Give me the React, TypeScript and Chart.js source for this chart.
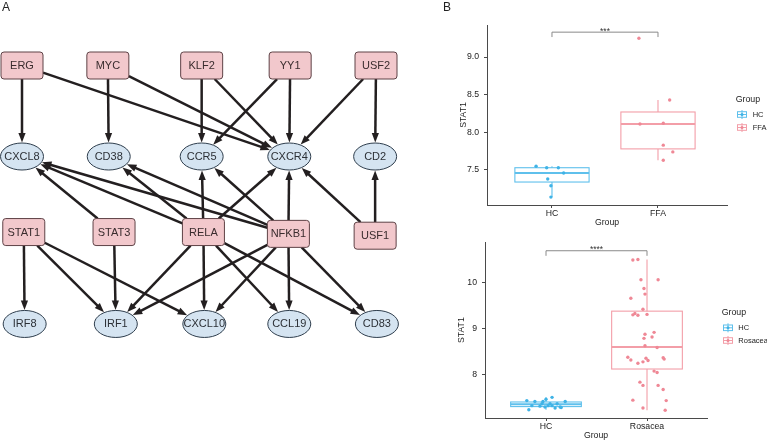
import React, { useEffect, useRef } from "react";
import { Chart, registerables } from "chart.js";
Chart.register(...registerables);

const FONT = "'Liberation Sans', Arial, Helvetica, sans-serif";

// ---------------- Panel A: regulatory network ----------------
const nodeNames = ["ERG", "MYC", "KLF2", "YY1", "USF2", "CXCL8", "CD38", "CCR5", "CXCR4", "CD2", "STAT1", "STAT3", "RELA", "NFKB1", "USF1", "IRF8", "IRF1", "CXCL10", "CCL19", "CD83"];
const nodeKinds = ["tf", "tf", "tf", "tf", "tf", "gene", "gene", "gene", "gene", "gene", "tf", "tf", "tf", "tf", "tf", "gene", "gene", "gene", "gene", "gene"];
const nodeCol = [0, 0.97, 2.03, 3.03, 4.0, 0, 0.98, 2.03, 3.02, 3.99, 0.02, 1.04, 2.05, 3.01, 3.99, 0.03, 1.06, 2.06, 3.02, 4.01];
const nodeRow = [0, 0, 0, 0, 0, 1, 1, 1, 1, 1, 1.83, 1.83, 1.83, 1.85, 1.87, 2.84, 2.84, 2.84, 2.84, 2.84];
const edgeFrom = ["ERG", "ERG", "MYC", "MYC", "KLF2", "KLF2", "YY1", "YY1", "USF2", "USF2", "USF1", "USF1", "NFKB1", "NFKB1", "NFKB1", "NFKB1", "RELA", "RELA", "RELA", "RELA", "STAT3", "STAT1", "STAT1", "STAT1", "STAT3", "RELA", "RELA", "RELA", "RELA", "NFKB1", "NFKB1", "NFKB1", "NFKB1"];
const edgeTo = ["CXCL8", "CXCR4", "CD38", "CXCR4", "CCR5", "CXCR4", "CCR5", "CXCR4", "CXCR4", "CD2", "CD2", "CXCR4", "CXCR4", "CCR5", "CXCL8", "CD38", "CXCL8", "CD38", "CCR5", "CXCR4", "CXCL8", "IRF8", "IRF1", "CXCL10", "IRF1", "IRF1", "CXCL10", "CCL19", "CD83", "IRF1", "CXCL10", "CCL19", "CD83"];

// ---------------- Panel B (top): FFA ----------------
const topGroups = ["HC", "FFA"];
const topHCValues = [7.55, 7.53, 7.53, 7.46, 7.38, 7.29, 7.14];
const topHCJitter = [-0.15, -0.05, 0.06, 0.11, -0.04, -0.01, -0.01];
const topFFAValues = [9.25, 8.43, 8.12, 8.11, 7.83, 7.74, 7.63];
const topFFAJitter = [-0.18, 0.11, 0.05, -0.17, 0.05, 0.14, 0.05];
const topQ1 = [7.34, 7.78];
const topMedian = [7.46, 8.11];
const topQ3 = [7.53, 8.27];
const topWhiskerLow = [7.14, 7.63];
const topWhiskerHigh = [7.55, 8.43];
const topYTicks = [7.5, 8.0, 8.5, 9.0];
const topSig = "***";
const topBracket = [9.33, 9.265];

// ---------------- Panel B (bottom): Rosacea ----------------
const botGroups = ["HC", "Rosacea"];
const botHCValues = [7.51, 7.47, 7.44, 7.42, 7.42, 7.42, 7.37, 7.37, 7.37, 7.33, 7.33, 7.33, 7.32, 7.3, 7.3, 7.29, 7.28, 7.24];
const botHCJitter = [0.06, 0, -0.19, -0.11, -0.03, 0.19, -0.04, 0.04, 0.11, -0.14, 0.02, 0.06, -0.06, -0.01, 0.14, 0.15, 0.09, -0.17];
const botRosValues = [10.49, 10.5, 10.06, 10.06, 9.87, 9.75, 9.66, 9.42, 9.33, 9.3, 9.29, 9.31, 8.88, 8.92, 8.79, 8.82, 8.63, 8.59, 8.38, 8.32, 8.36, 8.31, 8.28, 8.25, 8.37, 8.34, 8.08, 8.05, 7.84, 7.77, 7.77, 7.68, 7.45, 7.44, 7.28, 7.23];
const botRosJitter = [-0.14, -0.09, -0.06, 0.11, -0.03, -0.02, -0.16, -0.04, -0.12, -0.14, -0.09, 0.0, -0.02, 0.07, -0.03, 0.05, -0.02, 0.1, -0.19, -0.16, -0.01, 0.01, -0.04, -0.09, 0.16, 0.17, 0.07, 0.1, -0.07, -0.04, 0.11, 0.16, -0.14, 0.19, -0.04, 0.18];
const botQ1 = [7.31, 8.125];
const botMedian = [7.36, 8.6];
const botQ3 = [7.41, 9.38];
const botWhiskerLow = [7.24, 7.23];
const botWhiskerHigh = [7.51, 10.5];
const botYTicks = [8, 9, 10];
const botSig = "****";
const botBracket = [10.69, 10.58];

const yTitle = "STAT1";
const xTitle = "Group";
const legendTitle = "Group";

const POINT_COLORS = ["#3fb3e6", "#ef8896"];
const BOX_COLORS = ["#5fc0ec", "#f39ea8"];
const AXIS_COLOR = "#4a4a4a";

function networkConfig(): any {
  const idx = (n: string) => nodeNames.indexOf(n);
  const RW = 21, RH = 13.5, EA = 21.5, EB = 13.5;
  const boundary = (ux: number, uy: number, kind: string) => {
    if (kind === "tf") {
      const tx = Math.abs(ux) < 1e-9 ? 1e9 : RW / Math.abs(ux);
      const ty = Math.abs(uy) < 1e-9 ? 1e9 : RH / Math.abs(uy);
      return Math.min(tx, ty);
    }
    return 1 / Math.sqrt((ux / EA) ** 2 + (uy / EB) ** 2);
  };
  const plugin = {
    id: "network",
    afterDatasetsDraw(chart: any) {
      const ctx = chart.ctx;
      const pts = chart.getDatasetMeta(0).data;
      ctx.save();
      // edges
      ctx.strokeStyle = "#231f20";
      ctx.fillStyle = "#231f20";
      ctx.lineWidth = 2.5;
      ctx.lineCap = "butt";
      edgeFrom.forEach((f, k) => {
        const a = pts[idx(f)], b = pts[idx(edgeTo[k])];
        const dx = b.x - a.x, dy = b.y - a.y;
        const len = Math.hypot(dx, dy);
        const ux = dx / len, uy = dy / len;
        const ts = boundary(ux, uy, nodeKinds[idx(f)]);
        const te = boundary(ux, uy, nodeKinds[idx(edgeTo[k])]);
        const sx = a.x + ux * ts, sy = a.y + uy * ts;
        const ex = b.x - ux * (te + 0.5), ey = b.y - uy * (te + 0.5);
        const HL = 9.5, HW = 3.6;
        ctx.beginPath();
        ctx.moveTo(sx, sy);
        ctx.lineTo(ex - ux * (HL - 1), ey - uy * (HL - 1));
        ctx.stroke();
        const bx = ex - ux * HL, by = ey - uy * HL;
        ctx.beginPath();
        ctx.moveTo(ex, ey);
        ctx.lineTo(bx - uy * HW, by + ux * HW);
        ctx.lineTo(bx + uy * HW, by - ux * HW);
        ctx.closePath();
        ctx.fill();
      });
      // nodes
      ctx.font = `11px ${FONT}`;
      ctx.textAlign = "center";
      ctx.textBaseline = "middle";
      pts.forEach((p: any, i: number) => {
        ctx.lineWidth = 1;
        if (nodeKinds[i] === "tf") {
          ctx.fillStyle = "#f2c8cc";
          ctx.strokeStyle = "#5e4246";
          ctx.beginPath();
          (ctx as any).roundRect(p.x - RW, p.y - RH, RW * 2, RH * 2, 3);
          ctx.fill();
          ctx.stroke();
          ctx.fillStyle = "#3a2c2e";
        } else {
          ctx.fillStyle = "#d5e4f1";
          ctx.strokeStyle = "#2e3d4c";
          ctx.beginPath();
          ctx.ellipse(p.x, p.y, EA, EB, 0, 0, Math.PI * 2);
          ctx.fill();
          ctx.stroke();
          ctx.fillStyle = "#2c3036";
        }
        ctx.fillText(nodeNames[i], p.x, p.y + 0.5);
      });
      // panel label
      ctx.fillStyle = "#222";
      ctx.font = `12px ${FONT}`;
      ctx.textAlign = "left";
      ctx.textBaseline = "top";
      ctx.fillText("A", 2, 2);
      ctx.restore();
    },
  };
  return {
    type: "scatter",
    data: {
      datasets: [
        {
          data: nodeCol.map((c, i) => ({ x: c, y: nodeRow[i] })),
          pointRadius: 0,
          pointHoverRadius: 0,
        },
      ],
    },
    options: {
      animation: false,
      responsive: false,
      devicePixelRatio: 1,
      events: [],
      layout: { padding: 0 },
      plugins: { legend: { display: false }, tooltip: { enabled: false } },
      scales: {
        x: { type: "linear", display: false, min: -0.2486, max: 4.384 },
        y: { type: "linear", display: false, min: -0.7198, max: 4.126, reverse: true },
      },
    },
    plugins: [plugin],
  };
}

function boxConfig(p: any): any {
  const plugin = {
    id: "boxes",
    beforeDatasetsDraw(chart: any) {
      const ctx = chart.ctx;
      const xs = chart.scales.x, ys = chart.scales.y;
      ctx.save();
      p.groups.forEach((g: string, i: number) => {
        const xc = xs.getPixelForValue(i + 1);
        const hw = xs.getPixelForValue(i + 1.35) - xc;
        const y1 = ys.getPixelForValue(p.q1[i]);
        const y3 = ys.getPixelForValue(p.q3[i]);
        const ym = ys.getPixelForValue(p.med[i]);
        const yl = ys.getPixelForValue(p.lo[i]);
        const yh = ys.getPixelForValue(p.hi[i]);
        ctx.strokeStyle = BOX_COLORS[i];
        ctx.lineWidth = 1.1;
        ctx.beginPath();
        ctx.moveTo(xc, y3);
        ctx.lineTo(xc, yh);
        ctx.moveTo(xc, y1);
        ctx.lineTo(xc, yl);
        ctx.stroke();
        ctx.strokeRect(xc - hw, y3, hw * 2, y1 - y3);
        ctx.lineWidth = 2;
        ctx.beginPath();
        ctx.moveTo(xc - hw, ym);
        ctx.lineTo(xc + hw, ym);
        ctx.stroke();
      });
      ctx.restore();
    },
    afterDraw(chart: any) {
      const ctx = chart.ctx;
      const xs = chart.scales.x, ys = chart.scales.y;
      ctx.save();
      // significance bracket
      const x1 = xs.getPixelForValue(1), x2 = xs.getPixelForValue(2);
      const yb = ys.getPixelForValue(p.bracket[0]);
      const yd = ys.getPixelForValue(p.bracket[1]);
      ctx.strokeStyle = "#8a8a8a";
      ctx.lineWidth = 1;
      ctx.beginPath();
      ctx.moveTo(x1, yd);
      ctx.lineTo(x1, yb);
      ctx.lineTo(x2, yb);
      ctx.lineTo(x2, yd);
      ctx.stroke();
      ctx.fillStyle = "#333";
      ctx.font = `8.5px ${FONT}`;
      ctx.textAlign = "center";
      ctx.textBaseline = "alphabetic";
      ctx.fillText(p.sig, (x1 + x2) / 2, yb + 1.5);
      // legend
      const L = p.legend;
      ctx.textAlign = "left";
      ctx.textBaseline = "middle";
      ctx.fillStyle = "#222";
      ctx.font = `8.8px ${FONT}`;
      ctx.fillText(legendTitle, L.titleX, L.titleY);
      ctx.font = `7.5px ${FONT}`;
      p.groups.forEach((g: string, i: number) => {
        const cy = L.keyY + i * L.keyStep;
        const cx = L.keyX;
        ctx.strokeStyle = BOX_COLORS[i];
        ctx.lineWidth = 1;
        ctx.beginPath();
        ctx.moveTo(cx, cy - 4.5);
        ctx.lineTo(cx, cy + 4.5);
        ctx.stroke();
        ctx.strokeRect(cx - 4.5, cy - 2.8, 9, 5.6);
        ctx.beginPath();
        ctx.moveTo(cx - 4.5, cy);
        ctx.lineTo(cx + 4.5, cy);
        ctx.stroke();
        ctx.fillStyle = POINT_COLORS[i];
        ctx.beginPath();
        ctx.arc(cx, cy, 1.5, 0, Math.PI * 2);
        ctx.fill();
        ctx.fillStyle = "#222";
        ctx.fillText(g, L.textX, cy + 0.5);
      });
      if (p.panelLabel) {
        ctx.fillStyle = "#222";
        ctx.font = `12px ${FONT}`;
        ctx.textBaseline = "top";
        ctx.fillText(p.panelLabel, 3, 2);
      }
      ctx.restore();
    },
  };
  const axisFont = { family: FONT, size: 8.7 };
  return {
    type: "scatter",
    data: {
      datasets: p.groups.map((g: string, i: number) => ({
        label: g,
        data: p.values[i].map((v: number, k: number) => ({ x: i + 1 + p.jitter[i][k], y: v })),
        pointRadius: 1.7,
        pointHoverRadius: 1.7,
        pointBorderWidth: 0,
        pointBackgroundColor: POINT_COLORS[i],
        showLine: false,
      })),
    },
    options: {
      animation: false,
      responsive: false,
      devicePixelRatio: 1,
      events: [],
      layout: { padding: p.padding },
      plugins: { legend: { display: false }, tooltip: { enabled: false } },
      scales: {
        x: {
          type: "linear",
          min: p.xMin,
          max: p.xMax,
          afterBuildTicks: (s: any) => {
            s.ticks = p.groups.map((g: string, i: number) => ({ value: i + 1 }));
          },
          afterFit: (s: any) => {
            s.height = p.xHeight;
          },
          ticks: {
            autoSkip: false,
            maxRotation: 0,
            padding: 0,
            color: "#222",
            font: axisFont,
            callback: (v: any) => p.groups[Math.round(Number(v)) - 1],
          },
          grid: { display: true, drawOnChartArea: false, drawTicks: true, tickLength: 3, color: AXIS_COLOR },
          border: { display: true, color: AXIS_COLOR, width: 1 },
          title: { display: true, text: xTitle, color: "#222", font: axisFont, padding: { top: 0, bottom: p.xTitlePad } },
        },
        y: {
          type: "linear",
          min: p.yMin,
          max: p.yMax,
          afterBuildTicks: (s: any) => {
            s.ticks = p.yTicks.map((v: number) => ({ value: v }));
          },
          afterFit: (s: any) => {
            s.width = p.yWidth;
          },
          ticks: {
            padding: 5,
            color: "#222",
            font: axisFont,
            callback: (v: any) => Number(v).toFixed(p.yDecimals),
          },
          grid: { display: true, drawOnChartArea: false, drawTicks: true, tickLength: 3, color: AXIS_COLOR },
          border: { display: true, color: AXIS_COLOR, width: 1 },
          title: { display: true, text: yTitle, color: "#222", font: axisFont, padding: { top: p.yTitlePad, bottom: 0 } },
        },
      },
    },
    plugins: [plugin],
  };
}

export default function App() {
  const netRef = useRef<HTMLCanvasElement>(null);
  const topRef = useRef<HTMLCanvasElement>(null);
  const botRef = useRef<HTMLCanvasElement>(null);

  useEffect(() => {
    const charts: any[] = [];
    charts.push(new Chart(netRef.current as any, networkConfig()));
    charts.push(
      new Chart(
        topRef.current as any,
        boxConfig({
          groups: topGroups,
          values: [topHCValues, topFFAValues],
          jitter: [topHCJitter, topFFAJitter],
          q1: topQ1,
          med: topMedian,
          q3: topQ3,
          lo: topWhiskerLow,
          hi: topWhiskerHigh,
          yMin: 7.035,
          yMax: 9.425,
          yTicks: topYTicks,
          yDecimals: 1,
          xMin: 0.387,
          xMax: 2.651,
          bracket: topBracket,
          sig: topSig,
          padding: { top: 25, right: 40, left: 0, bottom: 1 },
          yWidth: 47,
          xHeight: 24,
          yTitlePad: 18,
          xTitlePad: 1,
          legend: { titleX: 295.7, titleY: 100, keyX: 302, keyY: 114.5, keyStep: 13, textX: 312.7 },
          panelLabel: "B",
        })
      )
    );
    charts.push(
      new Chart(
        botRef.current as any,
        boxConfig({
          groups: botGroups,
          values: [botHCValues, botRosValues],
          jitter: [botHCJitter, botRosJitter],
          q1: botQ1,
          med: botMedian,
          q3: botQ3,
          lo: botWhiskerLow,
          hi: botWhiskerHigh,
          yMin: 7.0625,
          yMax: 10.875,
          yTicks: botYTicks,
          yDecimals: 0,
          xMin: 0.396,
          xMax: 2.594,
          bracket: botBracket,
          sig: botSig,
          padding: { top: 3, right: 60, left: 0, bottom: 0 },
          yWidth: 45,
          xHeight: 23,
          yTitlePad: 16,
          xTitlePad: 0,
          legend: { titleX: 281.7, titleY: 81, keyX: 288, keyY: 95.8, keyStep: 12.7, textX: 298.3 },
          panelLabel: null,
        })
      )
    );
    return () => charts.forEach((c) => c.destroy());
  }, []);

  return (
    <div style={{ position: "absolute", left: 0, top: 0, width: 767, height: 441, background: "#fff", overflow: "hidden" }}>
      <canvas ref={netRef} width={410} height={441} style={{ position: "absolute", left: 0, top: 0, width: 410, height: 441 }} />
      <canvas ref={topRef} width={327} height={230} style={{ position: "absolute", left: 440, top: 0, width: 327, height: 230 }} />
      <canvas ref={botRef} width={327} height={209} style={{ position: "absolute", left: 440, top: 232, width: 327, height: 209 }} />
    </div>
  );
}
